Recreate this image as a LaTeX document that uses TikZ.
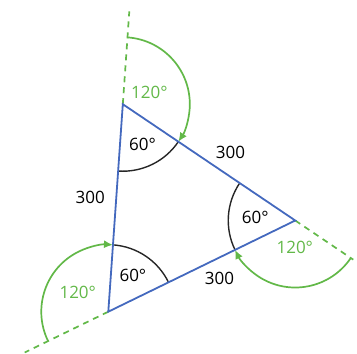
\documentclass[tikz,border=0pt]{standalone}
\usepackage{fontspec}
\setmainfont{Open Sans}
\usepackage{tikz}
\usetikzlibrary{calc,arrows.meta}
\definecolor{sideblue}{RGB}{68,105,190}
\definecolor{anglegreen}{RGB}{98,184,72}

\begin{document}
\begin{tikzpicture}[
    x=1pt, y=1pt,
    side/.style={draw=sideblue, line width=1.8pt, line join=miter},
    ext/.style={draw=anglegreen, line width=1.7pt, dash pattern=on 6pt off 5pt},
    inner/.style={draw=black!85, line width=1.4pt},
    outer/.style={draw=anglegreen, line width=1.7pt, -{Latex[length=9pt,width=8pt]}},
    deg/.style={font=\fontsize{17}{19}\selectfont, inner sep=0pt},
    degout/.style={deg, text=anglegreen},
]
\useasboundingbox (0,0) rectangle (357,354);
\coordinate (b) at (108.3,42.3);
\coordinate (t) at ($(b)+(86:208)$);
\coordinate (r) at ($(b)+(26:208)$);

% sides carried on past each corner
\coordinate (te) at ($(t)+(86:93)$);
\coordinate (re) at ($(r)+(-34:70)$);
\coordinate (be) at ($(b)+(206:93)$);
\draw[ext] (t) -- (te);
\draw[ext] (r) -- (re);
\draw[ext] (b) -- (be);

% exterior and interior angles
\draw[outer] ($(t)+(86:67)$) arc[start angle=86, end angle=-34, radius=67];
\draw[inner] ($(t)+(-34:67)$) arc[start angle=-34, end angle=-94, radius=67];
\draw[outer] ($(r)+(-34:67)$) arc[start angle=-34, end angle=-154, radius=67];
\draw[inner] ($(r)+(146:67)$) arc[start angle=146, end angle=206, radius=67];
\draw[outer] ($(b)+(206:67)$) arc[start angle=206, end angle=86, radius=67];
\draw[inner] ($(b)+(86:67)$) arc[start angle=86, end angle=26, radius=67];

\draw[side] (t) -- (r) -- (b) -- cycle;

\node[deg] (lentr) at ($(t)!0.56!(r)+(56:20)$) {300};
\node[deg] (lenbt) at ($(b)!0.54!(t)+(176:26)$) {300};
\node[deg] (lenbr) at ($(b)!0.55!(r)+(-64:19)$) {300};

\node[deg] (int) at ($(t)+(-64:45)$) {60°};
\node[deg] (inr) at ($(r)+(176:40)$) {60°};
\node[deg] (inb) at ($(b)+(56:44)$) {60°};

\node[degout] (outt) at ($(t)+(24:29)$) {120°};
\node[degout] (outr) at ($(r)+(-91:27)$) {120°};
\node[degout] (outb) at ($(b)+(148:36)$) {120°};
\end{tikzpicture}
\end{document}
